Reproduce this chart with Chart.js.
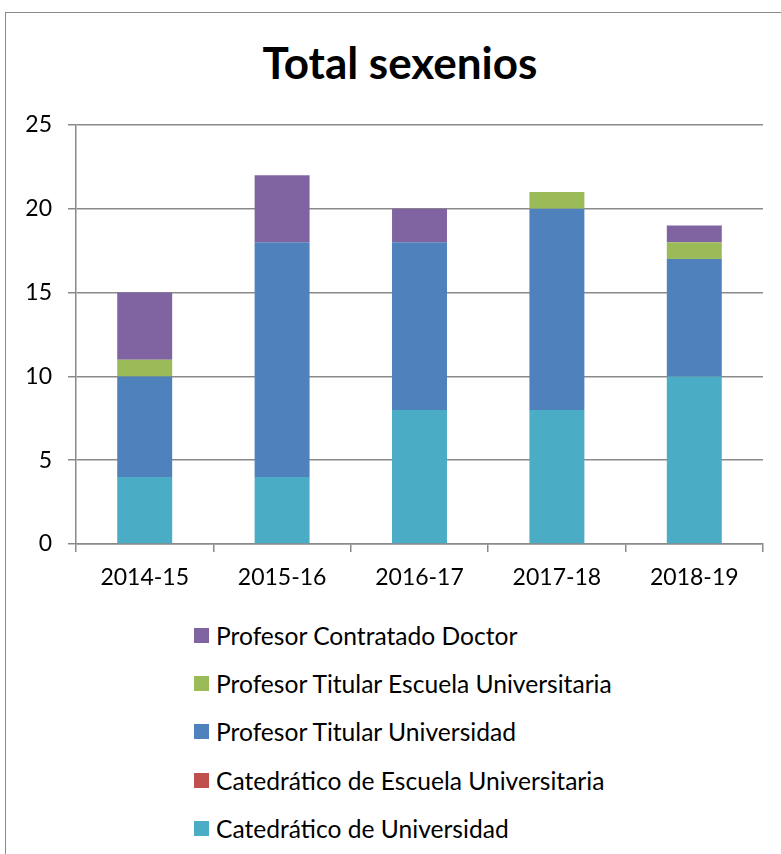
<!DOCTYPE html>
<html>
<head>
<meta charset="utf-8">
<script src="https://cdn.jsdelivr.net/npm/chart.js@4"></script>
<style>
  html, body { margin: 0; padding: 0; background: #fff; }
  body { width: 781px; height: 854px; position: relative; overflow: hidden; font-family: Lato, sans-serif; }
  #frame { position: absolute; left: 5px; top: 12px; width: 900px; height: 900px; border: 1.5px solid #8a8a8a; }
  #title { position: absolute; left: 0; top: 36px; width: 800px; margin: 0; text-align: center;
           font: bold 44px/1.2 Lato, sans-serif; color: #000; }
  #wrap { position: absolute; left: 0; top: 0; width: 781px; height: 600px; }
  #legend { position: absolute; left: 194px; top: 611px; margin: 0; padding: 0; list-style: none; }
  #legend li { height: 48.3px; display: flex; align-items: center; font-size: 24.6px; color: #000; white-space: nowrap; }
  #legend .box { width: 15px; height: 15px; margin-right: 7px; flex: none; }
</style>
</head>
<body>
<div id="frame"></div>
<h1 id="title">Total sexenios</h1>
<div id="wrap"><canvas id="chart-sexenios"></canvas></div>
<ul id="legend"></ul>
<script>
const cursos = ['2014-15', '2015-16', '2016-17', '2017-18', '2018-19'];
const catedraticoUniversidad = [4, 4, 8, 8, 10];
const catedraticoEscuela     = [0, 0, 0, 0, 0];
const titularUniversidad     = [6, 14, 10, 12, 7];
const titularEscuela         = [1, 0, 0, 1, 1];
const contratadoDoctor       = [4, 4, 2, 0, 1];

const GRID = '#8a8a8a';
const FONT = { family: 'Lato', size: 23 };

const ctx = document.getElementById('chart-sexenios');

const chart = new Chart(ctx, {
  type: 'bar',
  data: {
    labels: cursos,
    datasets: [
      { label: 'Catedrático de Universidad',            data: catedraticoUniversidad, backgroundColor: '#4BACC6' },
      { label: 'Catedrático de Escuela Universitaria',  data: catedraticoEscuela,     backgroundColor: '#C0504D' },
      { label: 'Profesor Titular Universidad',          data: titularUniversidad,     backgroundColor: '#4F81BD' },
      { label: 'Profesor Titular Escuela Universitaria', data: titularEscuela,        backgroundColor: '#9BBB59' },
      { label: 'Profesor Contratado Doctor',            data: contratadoDoctor,       backgroundColor: '#8064A2' },
    ],
  },
  options: {
    responsive:          true,
    maintainAspectRatio: false,
    animation:           false,
    // el título va en HTML (centrado en el marco), aquí solo se reserva el hueco
    layout: { padding: { left: 0, right: 18, top: 125, bottom: 0 } },
    datasets: { bar: { categoryPercentage: 1, barPercentage: 0.4, borderWidth: 0 } },
    plugins: {
      legend: { display: false },
      tooltip: { enabled: false },
    },
    scales: {
      x: {
        stacked: true,
        afterFit: (s) => { s.height = 56; },
        grid:   { drawOnChartArea: false, drawTicks: true, tickLength: 8, color: GRID, lineWidth: 1.5 },
        border: { color: GRID, width: 1.5 },
        ticks:  { color: '#000', font: FONT, padding: 12, maxRotation: 0 },
      },
      y: {
        stacked: true,
        min: 0,
        max: 25,
        afterFit: (s) => { s.width = 76; },
        grid:   { color: GRID, lineWidth: 1.5, tickLength: 8 },
        border: { color: GRID, width: 1.5 },
        ticks:  { stepSize: 5, color: '#000', font: FONT, padding: 16 },
      },
    },
  },
});

// Leyenda vertical en HTML, en orden inverso (como en el original)
const legend = document.getElementById('legend');
chart.data.datasets.slice().reverse().forEach((ds) => {
  const li = document.createElement('li');
  const box = document.createElement('span');
  box.className = 'box';
  box.style.background = ds.backgroundColor;
  li.appendChild(box);
  li.appendChild(document.createTextNode(ds.label));
  legend.appendChild(li);
});
</script>
</body>
</html>
